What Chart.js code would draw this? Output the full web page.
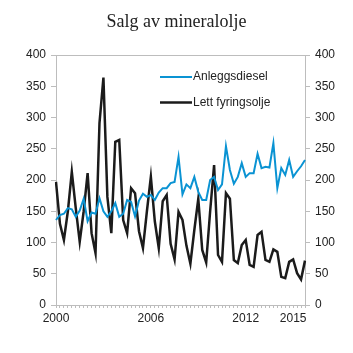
<!DOCTYPE html>
<html>
<head>
<meta charset="utf-8">
<script src="https://cdn.jsdelivr.net/npm/chart.js@4.4.1/dist/chart.umd.min.js"></script>
<style>
  html, body { margin: 0; padding: 0; background: #fff; }
</style>
</head>
<body>
<canvas id="salg" width="353" height="353"></canvas>
<script>
// Kvartaler 2000K1 – 2015K4
const kvartaler = [
  '2000K1','2000K2','2000K3','2000K4', '2001K1','2001K2','2001K3','2001K4',
  '2002K1','2002K2','2002K3','2002K4', '2003K1','2003K2','2003K3','2003K4',
  '2004K1','2004K2','2004K3','2004K4', '2005K1','2005K2','2005K3','2005K4',
  '2006K1','2006K2','2006K3','2006K4', '2007K1','2007K2','2007K3','2007K4',
  '2008K1','2008K2','2008K3','2008K4', '2009K1','2009K2','2009K3','2009K4',
  '2010K1','2010K2','2010K3','2010K4', '2011K1','2011K2','2011K3','2011K4',
  '2012K1','2012K2','2012K3','2012K4', '2013K1','2013K2','2013K3','2013K4',
  '2014K1','2014K2','2014K3','2014K4', '2015K1','2015K2','2015K3','2015K4'
];

// bare disse årstallene vises på x-aksen
const viste_aar = ['2000K1', '2006K1', '2012K1', '2015K1'];

const anleggsdiesel = [
  136, 144, 146, 155, 153, 141, 151, 170,
  134, 148, 146, 171, 150, 141, 150, 163,
  141, 146, 168, 165, 142, 167, 178, 173,
  176, 168, 180, 187, 187, 195, 197, 237,
  177, 193, 187, 205, 181, 168, 168, 200,
  205, 184, 193, 254, 216, 194, 205, 227,
  205, 211, 211, 242, 219, 221, 220, 259,
  187, 219, 208, 232, 205, 214, 222, 232
];

const lett_fyringsolje = [
  197, 130, 104, 150, 213, 155, 101, 150,
  211, 115,  83, 291, 364, 173, 115, 261,
  264, 136, 115, 187, 179, 118,  91, 150,
  205, 134,  91, 166, 176,  98,  73, 149,
  136,  95,  66, 120, 170,  88,  68, 150,
  224,  80,  69, 179, 170,  72,  67,  96,
  104,  64,  61, 112, 117,  72,  69,  89,
   85,  45,  43,  69,  73,  51,  41,  71
];

const yTicks = [0, 50, 100, 150, 200, 250, 300, 350, 400];

const BLAA = '#0a93d3';
const SVART = '#1b1b1b';
const GRAA = '#bdbdbd';
const TEKST = '#222';

// Forklaring tegnes inne i plottet, oppe til høyre
const forklaring = {
  id: 'forklaring',
  afterDraw(chart) {
    const { ctx, chartArea } = chart;
    ctx.save();
    ctx.font = '12px "Liberation Sans", Arial, sans-serif';
    ctx.textBaseline = 'middle';
    chart.data.datasets.forEach((ds, i) => {
      const y = chartArea.top + 22 + i * 25.5;
      const x0 = chartArea.left + 104;
      ctx.strokeStyle = ds.borderColor;
      ctx.lineWidth = ds.borderWidth;
      ctx.beginPath();
      ctx.moveTo(x0, y);
      ctx.lineTo(x0 + 32, y);
      ctx.stroke();
      ctx.fillStyle = TEKST;
      ctx.fillText(ds.label, x0 + 33, y);
    });
    ctx.restore();
  }
};

const yAkse = (pos) => ({
  position: pos,
  min: 0,
  max: 400,
  afterBuildTicks: (s) => { s.ticks = yTicks.map(v => ({ value: v })); },
  afterFit: (s) => { s.width = pos === 'left' ? 56 : 48; },
  grid: { drawOnChartArea: false, drawTicks: true, tickLength: 5, color: GRAA },
  border: { display: true, color: GRAA, width: 1 },
  ticks: {
    padding: 5,
    color: TEKST,
    font: { family: '"Liberation Sans", Arial, sans-serif', size: 12 }
  }
});

new Chart(document.getElementById('salg'), {
  type: 'line',
  data: {
    labels: kvartaler,
    datasets: [
      {
        label: 'Anleggsdiesel',
        data: anleggsdiesel,
        borderColor: BLAA,
        borderWidth: 2,
        pointRadius: 0,
        tension: 0,
        yAxisID: 'y'
      },
      {
        label: 'Lett fyringsolje',
        data: lett_fyringsolje,
        borderColor: SVART,
        borderWidth: 2.5,
        pointRadius: 0,
        tension: 0,
        yAxisID: 'y'
      }
    ]
  },
  options: {
    responsive: false,
    animation: false,
    devicePixelRatio: 1,
    layout: { padding: { left: 0, right: 0, top: 0, bottom: 0 } },
    plugins: {
      legend: { display: false },
      tooltip: { enabled: false },
      title: {
        display: true,
        text: 'Salg av mineralolje',
        color: TEKST,
        font: { family: '"Liberation Serif", "Times New Roman", serif', size: 18, weight: 'normal', lineHeight: 1.2 },
        padding: { top: 11, bottom: 22.4 }
      }
    },
    scales: {
      x: {
        type: 'category',
        offset: false,
        afterFit: (s) => { s.height = 48; },
        grid: { drawOnChartArea: false, drawTicks: true, tickLength: 3, color: GRAA },
        border: { display: true, color: GRAA, width: 1 },
        ticks: {
          autoSkip: false,
          maxRotation: 0,
          padding: 3,
          color: TEKST,
          font: { family: '"Liberation Sans", Arial, sans-serif', size: 12 },
          callback: (v, i) => viste_aar.includes(kvartaler[i]) ? kvartaler[i].slice(0, 4) : ''
        }
      },
      xTopp: {
        type: 'category',
        position: 'top',
        afterFit: (s) => { s.height = 0; },
        grid: { display: false },
        border: { display: true, color: GRAA, width: 1 },
        ticks: { display: false }
      },
      y: yAkse('left'),
      y2: yAkse('right')
    }
  },
  plugins: [forklaring]
});
</script>
</body>
</html>
